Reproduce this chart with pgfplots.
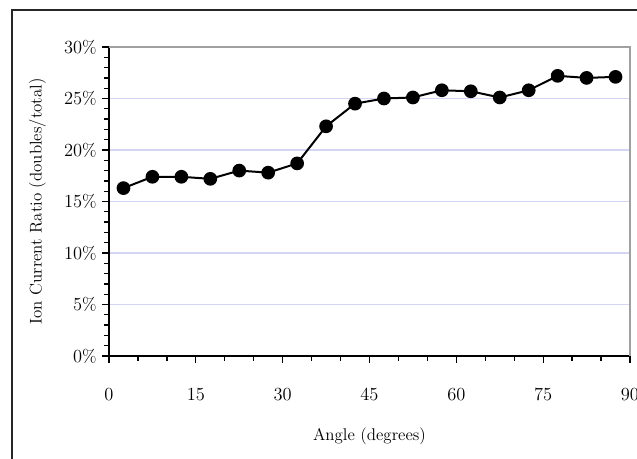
\documentclass[border=0pt]{standalone}
\usepackage{pgfplots}
\pgfplotsset{compat=1.18}
\definecolor{gridblue}{HTML}{D4D4F4}
\definecolor{boxgray}{HTML}{A0A0A0}

\begin{document}
\begin{tikzpicture}
  \begin{axis}[
    at={(0pt,0pt)}, anchor=south west,
    scale only axis,
    width=338.65pt, height=200.85pt,
    xmin=0, xmax=90, ymin=0, ymax=30,
    axis x line*=bottom, axis y line*=left,
    axis line style={black, line width=0.8pt},
    xtick={0,15,...,90}, minor x tick num=2,
    ytick={0,5,...,30}, minor y tick num=4,
    tick align=outside,
    major tick length=4.5pt, minor tick length=3pt,
    tick style={black, line width=0.8pt},
    yticklabel={\pgfmathprintnumber{\tick}\%},
    ticklabel style={font=\fontsize{11.5}{13}\selectfont},
    label style={font=\fontsize{11}{13}\selectfont},
    xticklabel style={yshift=-13pt},
    ymajorgrids,
    major grid style={gridblue, line width=0.8pt},
    xlabel={Angle (degrees)},
    ylabel={Ion Current Ratio (doubles/total)},
    xlabel style={yshift=-11pt},
    ylabel style={yshift=5pt},
    clip=false,
  ]
    \draw[boxgray, line width=1pt] (rel axis cs:0,1) -- (rel axis cs:1,1) -- (rel axis cs:1,0);
    \addplot[black, line width=1.3pt, mark=*, mark size=3.8pt] coordinates {
      (2.5,16.3) (7.5,17.4) (12.5,17.4) (17.5,17.2) (22.5,18.0) (27.5,17.8)
      (32.5,18.7) (37.5,22.3) (42.5,24.5) (47.5,25.0) (52.5,25.1) (57.5,25.8)
      (62.5,25.7) (67.5,25.1) (72.5,25.8) (77.5,27.2) (82.5,27.0) (87.5,27.1)
    };
  \end{axis}
  \draw[black!85, line width=1.3pt] (-63.05pt,-90pt) rectangle (380pt,224.9pt);
  \pgfresetboundingbox
  \path[use as bounding box] (-70.85pt,-66.3pt) rectangle (343.2pt,231.4pt);
\end{tikzpicture}
\end{document}
